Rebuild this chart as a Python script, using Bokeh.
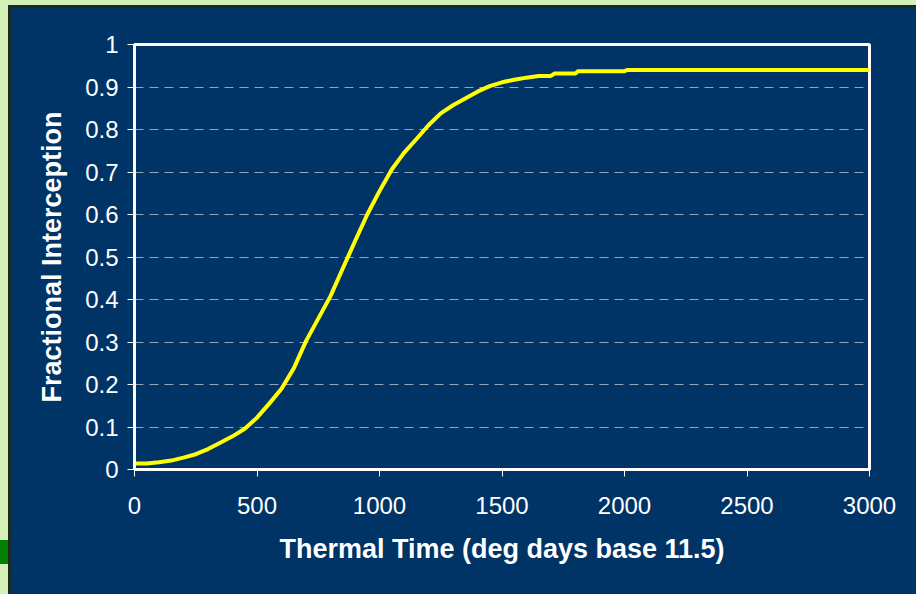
from bokeh.plotting import figure
from bokeh.models import Range1d, FixedTicker, CustomJSTickFormatter, Div, Column, Row
from bokeh.embed import file_html
from bokeh.resources import INLINE

# Thermal time (deg days, base 11.5) and fractional light interception
thermal_time = [0, 50, 100, 150, 200, 250, 300, 350, 400, 450, 500, 550, 600,
                650, 700, 750, 800, 850, 900, 950, 1000, 1050, 1100, 1150, 1200,
                1250, 1300, 1350, 1400, 1450, 1500, 1550, 1600, 1650, 1700, 1715,
                1800, 1810, 2000, 2010, 2500, 3000]
interception = [0.014, 0.014, 0.017, 0.021, 0.028, 0.036, 0.048, 0.063, 0.078,
                0.096, 0.122, 0.155, 0.190, 0.238, 0.302, 0.355, 0.408, 0.473,
                0.537, 0.600, 0.655, 0.706, 0.745, 0.777, 0.810, 0.838, 0.857,
                0.873, 0.889, 0.902, 0.911, 0.917, 0.922, 0.926, 0.926, 0.932,
                0.932, 0.937, 0.937, 0.940, 0.940, 0.940]

x_ticks = [0, 500, 1000, 1500, 2000, 2500, 3000]
y_ticks = [0, 0.1, 0.2, 0.3, 0.4, 0.5, 0.6, 0.7, 0.8, 0.9, 1.0]

NAVY = "#003366"
GREEN = "#d3f0b6"
RULE = "#1e2a1e"
FONT = "Liberation Sans"

p = figure(width=906, height=587, x_range=Range1d(0, 3000), y_range=Range1d(0, 1),
           output_backend="svg", toolbar_location=None,
           min_border_left=124, min_border_right=47,
           min_border_top=37, min_border_bottom=125,
           margin=(2, 0, 0, 2))

p.background_fill_color = NAVY
p.border_fill_color = NAVY
p.outline_line_color = "white"
p.outline_line_width = 3

# axes
for ax in (p.xaxis[0], p.yaxis[0]):
    ax.axis_line_color = "white"
    ax.axis_line_width = 3
    ax.major_tick_line_color = "white"
    ax.major_tick_line_width = 1
    ax.major_tick_in = 0
    ax.major_tick_out = 7
    ax.minor_tick_line_color = None
    ax.major_label_text_color = "white"
    ax.major_label_text_font = FONT
    ax.major_label_text_font_size = "24px"
    ax.axis_label_text_color = "white"
    ax.axis_label_text_font = FONT
    ax.axis_label_text_font_size = "27px"
    ax.axis_label_text_font_style = "bold"

p.xaxis.ticker = FixedTicker(ticks=x_ticks)
p.yaxis.ticker = FixedTicker(ticks=y_ticks)
p.yaxis.formatter = CustomJSTickFormatter(code="return Number(tick.toFixed(1)).toString();")
p.xaxis.major_label_standoff = 20
p.yaxis.major_label_standoff = 9
p.xaxis.axis_label = "Thermal Time (deg days base 11.5)"
p.yaxis.axis_label = "Fractional Interception"
p.xaxis.axis_label_standoff = 17
p.yaxis.axis_label_standoff = 15

p.xgrid.visible = False
p.ygrid.grid_line_color = "#93a3b8"
p.ygrid.grid_line_width = 1
p.ygrid.grid_line_dash = "9 6"

p.line(thermal_time, interception, line_color="#ffff00", line_width=4,
       line_join="round", line_cap="round")

# slide frame: light green edges, a dark rule, and a small marker block on the left
left_strip = Column(children=[
    Div(width=8, height=540, margin=0),
    Div(width=8, height=24, margin=0, styles={"background-color": "#008000"}),
], width=8, height=594, margin=0, spacing=0)

panel = Column(children=[p], width=908, height=589, margin=(5, 0, 0, 0), spacing=0,
               styles={"background-color": RULE})

page = Row(children=[left_strip, panel], width=916, height=594, margin=0, spacing=0,
           styles={"background-color": GREEN})

open("out.html", "w").write(file_html(page, INLINE))
